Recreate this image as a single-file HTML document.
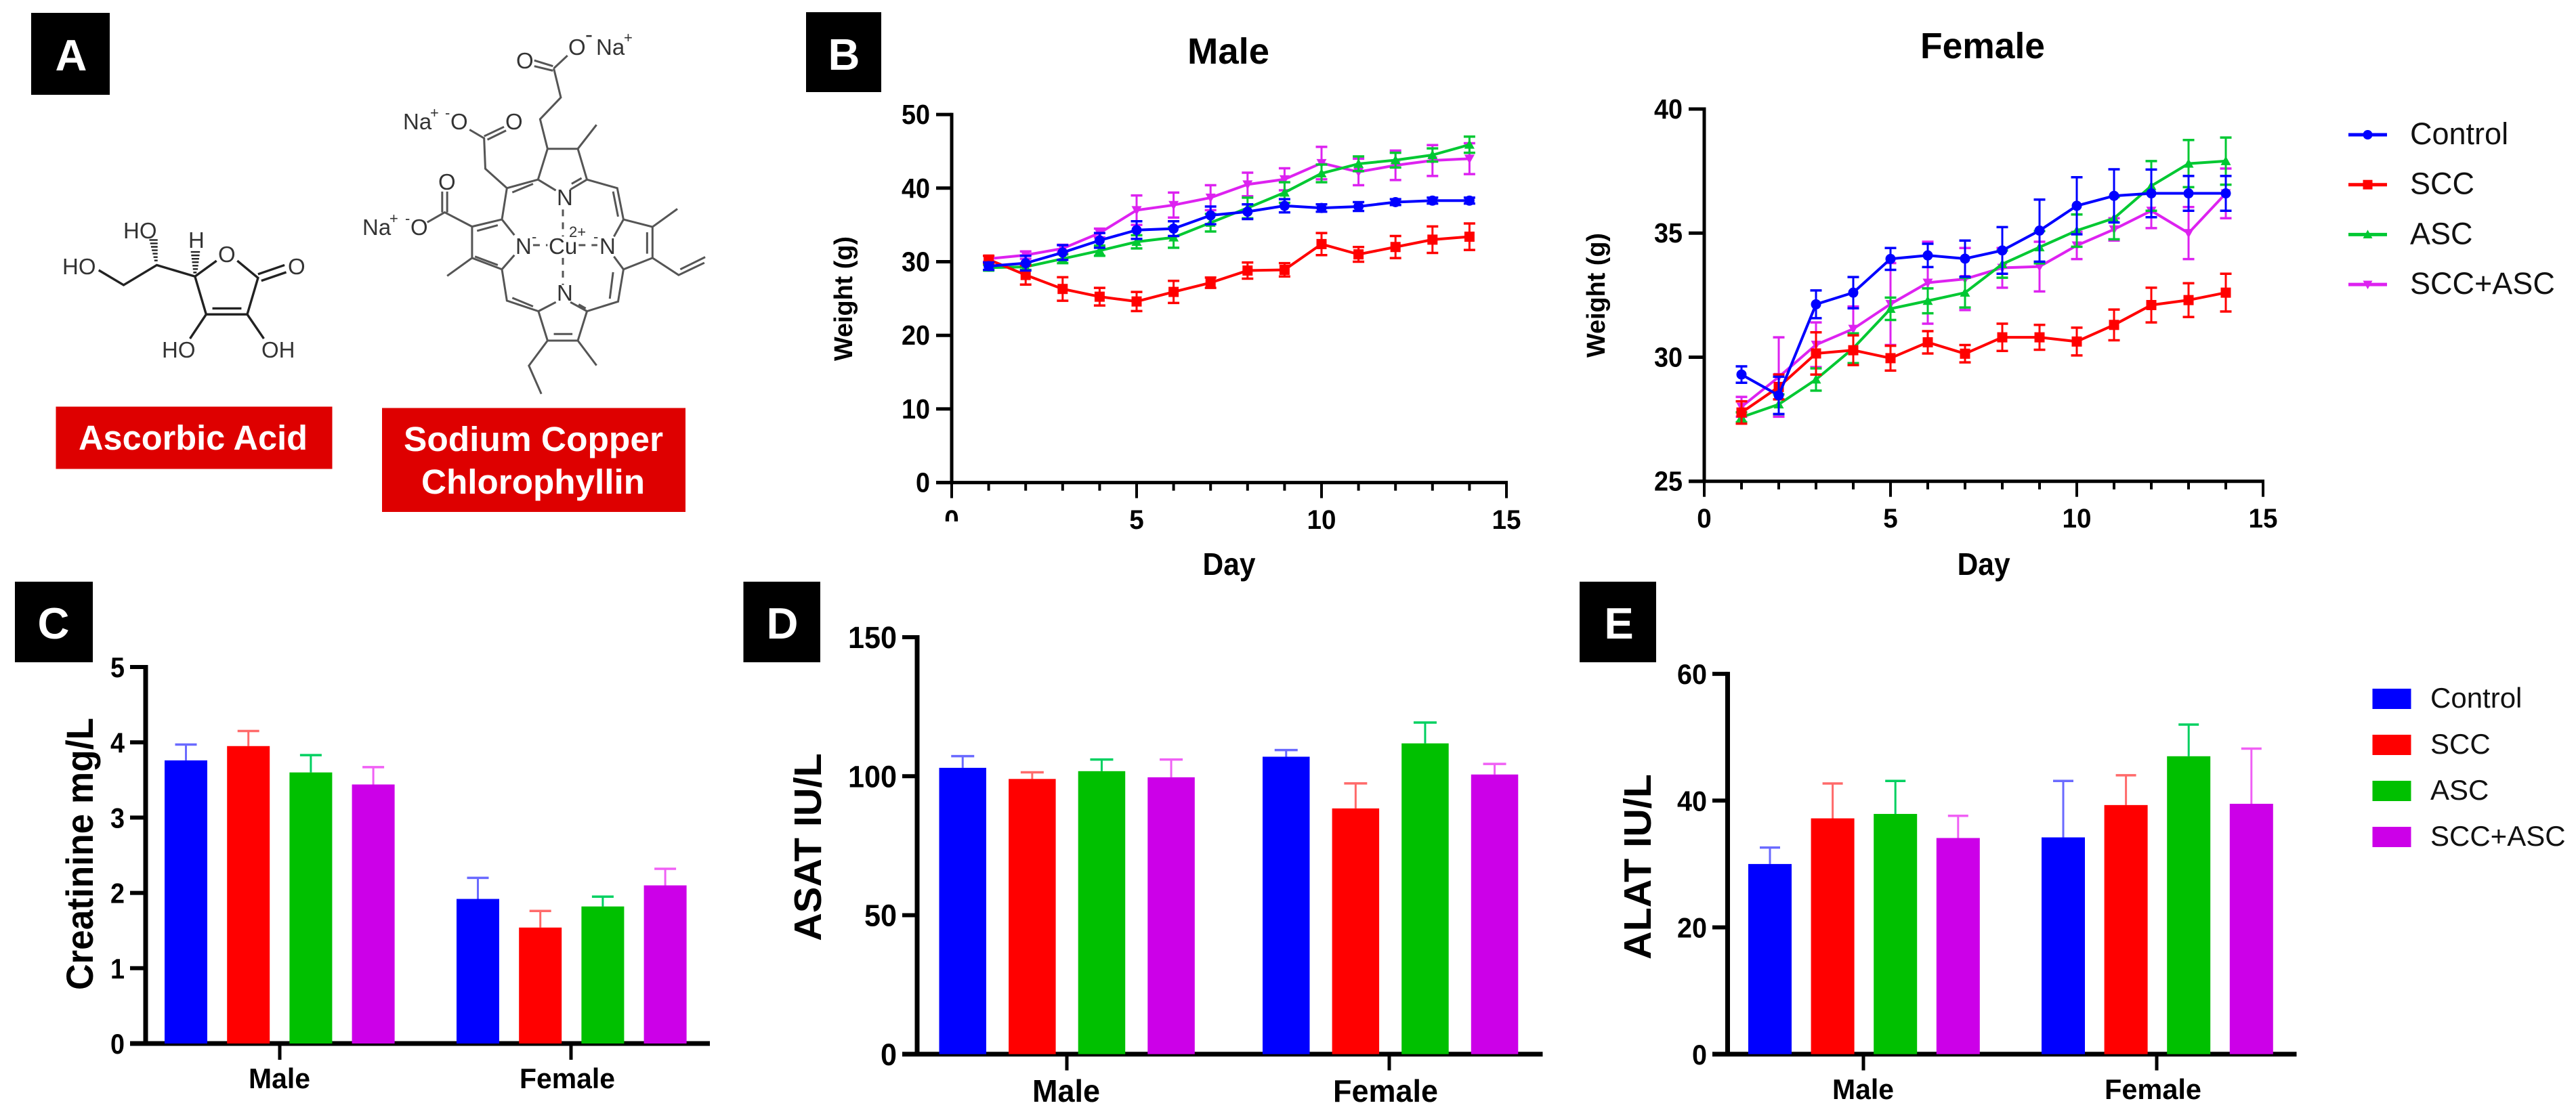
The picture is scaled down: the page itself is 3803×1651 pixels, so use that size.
<!DOCTYPE html>
<html lang="en">
<head>
<meta charset="utf-8">
<title>Weight and serum biochemistry figure</title>
<style>
html,body{margin:0;padding:0;background:#fff;}
body{width:3803px;height:1651px;overflow:hidden;}
svg{display:block;}
text{font-family:"Liberation Sans",sans-serif;}
.chem text{fill:#333;font-size:33px;}
.bond line,.bond path{vector-effect:non-scaling-stroke;}
</style>
</head>
<body>
<svg id="fig" xmlns="http://www.w3.org/2000/svg" width="3803" height="1651" viewBox="0 0 3803 1651">
<rect width="3803" height="1651" fill="#fff"/>

<g font-weight="700" font-size="65" fill="#fff" text-anchor="middle">
  <rect x="46" y="19" width="116" height="121" fill="#000"/>
  <text x="105" y="104" fill="#fff">A</text>
  <rect x="1190" y="18" width="111" height="118" fill="#000"/>
  <text x="1246" y="103" fill="#fff">B</text>
  <rect x="22" y="859" width="115" height="119" fill="#000"/>
  <text x="79" y="943" fill="#fff">C</text>
  <rect x="1097.5" y="859" width="113.5" height="119" fill="#000"/>
  <text x="1155" y="943" fill="#fff">D</text>
  <rect x="2332" y="859" width="113" height="119" fill="#000"/>
  <text x="2390" y="943" fill="#fff">E</text>
</g>

<g class="chem">
  <g class="bond" transform="scale(0.6124,0.4209)" stroke="#222" stroke-width="3.4" fill="none">
    <path d="M238 948L298 1000L378 930L470 970L522 915M470 970L497 1103L596 1103L622 975L572 915M512 1082L582 1082M622 962L686 930M630 985L690 955M497 1103L458 1188M596 1103L636 1188"/>
    <path stroke-width="2.4" d="M360 842L380 842M362 854L380 854M364 866L380 866M366 878L380 878M368 890L380 890M370 902L380 902M372 914L380 914M460 884L482 884M461 896L481 896M462 908L480 908M463 920L479 920M464 932L478 932M465 944L477 944M466 956L474 956"/>
  </g>
  <text x="92" y="405">HO</text>
  <text x="182" y="352">HO</text>
  <text x="278" y="366">H</text>
  <text x="322" y="387">O</text>
  <text x="425" y="405">O</text>
  <text x="239" y="528">HO</text>
  <text x="386" y="528">OH</text>
</g>

<g class="chem">
  <g class="bond" transform="scale(0.6124,0.4209)" stroke="#555" stroke-width="3" fill="none">
    <path d="M1333 232L1288 212M1333 248L1288 232M1335 240L1368 195M1335 240L1352 342L1302 418L1320 522L1393 522L1438 438M1320 522L1297 630L1340 668M1393 522L1415 630L1375 665M1378 645L1402 625M1415 630L1488 660L1503 770L1480 830M1478 672L1490 760M1503 770L1573 796L1573 905L1503 945L1480 900M1560 815L1560 890M1573 796L1633 733M1573 905L1636 965L1698 922M1640 945L1700 902M1503 945L1490 1058L1415 1092L1375 1060M1478 955L1470 1048M1395 1068L1412 1082M1298 1092L1340 1060M1298 1092L1222 1055L1210 945L1240 895M1235 1045L1285 1075M1210 945L1138 905L1138 795L1210 770L1240 825M1145 900L1200 930M1150 810L1200 790M1138 905L1078 968M1138 795L1072 745L1030 780M1066 745L1066 672M1078 745L1078 672M1210 770L1222 660L1297 630M1235 675L1285 645M1222 660L1170 592L1167 485L1132 455M1167 478L1215 445M1175 490L1220 458M1298 1092L1320 1195L1393 1195L1415 1092M1335 1172L1380 1172M1320 1195L1275 1283L1305 1382M1393 1195L1438 1282"/>
    <path stroke-dasharray="10 9" d="M1357 735L1357 830M1357 905L1357 1000M1285 860L1320 860M1395 860L1440 860"/>
  </g>
  <text x="762" y="101">O</text>
  <text x="839" y="81">O</text>
  <text x="864" y="62" font-size="22">-</text>
  <text x="880" y="81">Na</text>
  <text x="921" y="63" style="font-size:22px">+</text>
  <text x="595" y="191">Na</text>
  <text x="635" y="174" style="font-size:22px">+</text>
  <text x="657" y="174" style="font-size:22px">-</text>
  <text x="665" y="191">O</text>
  <text x="746" y="191">O</text>
  <text x="535" y="347">Na</text>
  <text x="575" y="330" style="font-size:22px">+</text>
  <text x="598" y="330" style="font-size:22px">-</text>
  <text x="606" y="347">O</text>
  <text x="647" y="280">O</text>
  <text x="822" y="303">N</text>
  <text x="761" y="375">N</text>
  <text x="785" y="357" style="font-size:22px">-</text>
  <text x="810" y="375">Cu</text>
  <text x="840" y="350" style="font-size:22px">2+</text>
  <text x="885" y="375">N</text>
  <text x="876" y="357" style="font-size:22px">-</text>
  <text x="822" y="444">N</text>
</g>

<g font-weight="700" fill="#fff">
  <rect x="82.5" y="600.5" width="408" height="92" fill="#de0000"/>
  <text x="116" y="664" font-size="51" textLength="338" lengthAdjust="spacingAndGlyphs">Ascorbic Acid</text>
  <rect x="564" y="602.5" width="448" height="153.5" fill="#de0000"/>
  <text x="596" y="666" font-size="51" textLength="383" lengthAdjust="spacingAndGlyphs">Sodium Copper</text>
  <text x="622" y="729" font-size="51" textLength="330" lengthAdjust="spacingAndGlyphs">Chlorophyllin</text>
</g>
<g id="charts"></g>
</svg>

<script>
/* ---------- shared ---------- */
const groupNames = ['Control', 'SCC', 'ASC', 'SCC+ASC'];
const sexNames = ['Male', 'Female'];

/* ---------- panel B data ---------- */
const days = [1, 2, 3, 4, 5, 6, 7, 8, 9, 10, 11, 12, 13, 14];
const dayTickLabels = [0, 5, 10, 15];
const maleWeightTicks = [0, 10, 20, 30, 40, 50];
const femaleWeightTicks = [25, 30, 35, 40];

const maleControl = [29.4, 29.8, 31.25, 32.9, 34.3, 34.5, 36.3, 36.8, 37.6, 37.3, 37.5, 38.1, 38.3, 38.3];
const maleControlErr = [0.5, 1.0, 1.0, 1.0, 1.2, 1.0, 1.2, 1.0, 0.9, 0.5, 0.6, 0.4, 0.4, 0.4];
const maleSCC = [30.3, 28.2, 26.3, 25.25, 24.6, 25.9, 27.15, 28.8, 28.9, 32.4, 31.0, 32.0, 33.0, 33.4];
const maleSCCErr = [0.5, 1.3, 1.6, 1.2, 1.3, 1.5, 0.7, 1.1, 0.9, 1.5, 1.0, 1.5, 1.8, 1.8];
const maleASC = [29.2, 29.3, 30.4, 31.5, 32.7, 33.3, 35.3, 37.3, 39.4, 42.0, 43.3, 43.8, 44.5, 45.9];
const maleASCErr = [0.4, 0.4, 0.6, 0.7, 0.9, 1.4, 1.2, 1.4, 1.4, 1.2, 1.0, 1.0, 0.9, 1.1];
const maleCombo = [30.4, 30.9, 31.8, 33.9, 37.0, 37.7, 38.7, 40.5, 41.2, 43.4, 42.2, 43.1, 43.75, 44.0];
const maleComboErr = [0.4, 0.5, 0.5, 0.6, 2.0, 1.7, 1.7, 1.6, 1.5, 2.2, 1.8, 2.0, 2.1, 2.1];

const femaleControl = [29.3, 28.46, 32.13, 32.6, 33.96, 34.1, 33.97, 34.3, 35.1, 36.1, 36.5, 36.6, 36.6, 36.6];
const femaleControlErr = [0.33, 0.75, 0.56, 0.63, 0.44, 0.47, 0.73, 0.94, 1.25, 1.15, 1.07, 0.96, 0.7, 0.7];
const femaleSCC = [27.77, 28.8, 30.15, 30.28, 29.96, 30.6, 30.14, 30.8, 30.8, 30.63, 31.3, 32.1, 32.3, 32.6];
const femaleSCCErr = [0.45, 0.5, 0.85, 0.6, 0.5, 0.45, 0.35, 0.55, 0.5, 0.56, 0.62, 0.7, 0.68, 0.76];
const femaleASC = [27.58, 28.1, 29.1, 30.36, 31.95, 32.27, 32.6, 33.75, 34.43, 35.1, 35.6, 36.9, 37.8, 37.9];
const femaleASCErr = [0.2, 0.4, 0.45, 0.6, 0.45, 0.5, 0.6, 0.55, 0.65, 0.65, 0.85, 1.0, 0.95, 0.95];
const femaleCombo = [28.0, 29.2, 30.5, 31.14, 32.14, 33.0, 33.15, 33.6, 33.65, 34.5, 35.15, 35.9, 35.0, 36.6];
const femaleComboErr = [0.4, 1.6, 0.9, 0.9, 1.65, 1.65, 1.25, 0.8, 1.0, 0.55, 0.45, 0.7, 1.05, 1.0];

/* ---------- panels C, D, E data: rows are Male, Female; columns follow groupNames ---------- */
const creatinineTicks = [0, 1, 2, 3, 4, 5];
const creatinineMale = [3.76, 3.95, 3.6, 3.44];
const creatinineMaleErr = [0.21, 0.2, 0.23, 0.23];
const creatinineFemale = [1.92, 1.54, 1.82, 2.1];
const creatinineFemaleErr = [0.28, 0.22, 0.13, 0.22];

const asatTicks = [0, 50, 100, 150];
const asatMale = [103, 99, 101.8, 99.6];
const asatMaleErr = [4.2, 2.4, 4.2, 6.4];
const asatFemale = [107, 88.4, 111.8, 100.6];
const asatFemaleErr = [2.4, 9.0, 7.5, 3.8];

const alatTicks = [0, 20, 40, 60];
const alatMale = [30, 37.2, 37.9, 34.1];
const alatMaleErr = [2.6, 5.5, 5.2, 3.5];
const alatFemale = [34.2, 39.3, 47, 39.5];
const alatFemaleErr = [8.9, 4.7, 5, 8.7];

/* ---------- drawing helpers ---------- */
const SVGNS = 'http://www.w3.org/2000/svg';
const root = document.getElementById('charts');
const lineColors = ['#0000ff', '#ff0000', '#00c832', '#dd22f0'];
const barColors = ['#0000ff', '#ff0000', '#00c000', '#cc00e8'];
const capColors = ['#6a6aff', '#ff6a6a', '#00d060', '#f060f5'];

function mk(parent, tag, name, attrs, content) {
  const el = document.createElementNS(SVGNS, tag);
  
  
  for (const k in attrs) el.setAttribute(k, attrs[k]);
  if (content !== undefined) el.textContent = content;
  parent.appendChild(el);
  return el;
}
function slug(s) { return String(s).toLowerCase().replace(/[^a-z0-9]+/g, '-'); }
function hline(p, name, x1, x2, y, w, c) { return mk(p, 'line', name, {x1: x1, x2: x2, y1: y, y2: y, stroke: c || '#000', 'stroke-width': w}); }
function vline(p, name, x, y1, y2, w, c) { return mk(p, 'line', name, {x1: x, x2: x, y1: y1, y2: y2, stroke: c || '#000', 'stroke-width': w}); }

function marker(p, name, kind, x, y, s, color) {
  if (kind === 0) return mk(p, 'circle', name, {cx: x, cy: y, r: s, fill: color});
  if (kind === 1) return mk(p, 'rect', name, {x: x - s, y: y - s, width: 2 * s, height: 2 * s, fill: color});
  if (kind === 2) return mk(p, 'polygon', name, {points: (x - s) + ',' + (y + s * 0.8) + ' ' + (x + s) + ',' + (y + s * 0.8) + ' ' + x + ',' + (y - s), fill: color});
  return mk(p, 'polygon', name, {points: (x - s) + ',' + (y - s * 0.8) + ' ' + (x + s) + ',' + (y - s * 0.8) + ' ' + x + ',' + (y + s), fill: color});
}

/* ---------- line chart ---------- */
function lineChart(cfg) {
  const g = mk(root, 'g', cfg.name, {});
  const xOf = d => cfg.x0 + d * cfg.pxPerDay;
  const yOf = v => cfg.yBase - (v - cfg.yMin) * cfg.pxPerUnit;
  const top = yOf(cfg.yTicks[cfg.yTicks.length - 1]);

  mk(g, 'text', 'chart-title', {x: cfg.titleX, y: cfg.titleY, 'font-size': 54, 'font-weight': 700, textLength: cfg.titleW, lengthAdjust: 'spacingAndGlyphs'}, cfg.title);

  vline(g, 'y-axis', cfg.x0, top - 2.5, cfg.yBase + 2.5, 5);
  hline(g, 'x-axis', cfg.x0 - 23, xOf(15) + 2, cfg.yBase, 5);
  cfg.yTicks.forEach(function (t) {
    hline(g, 'y-tick-' + t, cfg.x0 - 23, cfg.x0, yOf(t), 5);
    mk(g, 'text', 'y-tick-label-' + t, {x: cfg.x0 - 32, y: yOf(t) + 14, 'font-size': 41, 'font-weight': 700, 'text-anchor': 'end', textLength: String(t).length * 21, lengthAdjust: 'spacingAndGlyphs'}, t);
  });
  for (let d = 1; d <= 15; d++) {
    vline(g, 'x-minor-tick-' + d, xOf(d), cfg.yBase, cfg.yBase + 12, 4);
  }
  dayTickLabels.forEach(function (t) {
    vline(g, 'x-tick-' + t, xOf(t), cfg.yBase, cfg.yBase + 23, 4);
    mk(g, 'text', 'x-tick-label-' + t, {x: xOf(t), y: cfg.tickLabelY, 'font-size': 40, 'font-weight': 700, 'text-anchor': 'middle', textLength: String(t).length * 21.5, lengthAdjust: 'spacingAndGlyphs'}, t);
  });
  mk(g, 'text', 'x-axis-title', {x: cfg.dayX, y: 849, 'font-size': 46, 'font-weight': 700, textLength: 78, lengthAdjust: 'spacingAndGlyphs'}, 'Day');
  mk(g, 'text', 'y-axis-title', {transform: 'translate(' + cfg.yTitleX + ',' + cfg.yTitleY + ') rotate(-90)', 'text-anchor': 'middle', 'font-size': 38, 'font-weight': 700, textLength: 184, lengthAdjust: 'spacingAndGlyphs'}, 'Weight (g)');

  [3, 2, 1, 0].forEach(function (s) {
    const values = cfg.series[s];
    const errs = cfg.errors[s];
    const color = lineColors[s];
    const sg = mk(g, 'g', 'series-' + slug(groupNames[s]), {});
    days.forEach(function (d, i) {
      const x = xOf(d);
      vline(sg, 'error-bar', x, yOf(values[i] + errs[i]), yOf(values[i] - errs[i]), 3, color);
      hline(sg, 'error-cap-top', x - 8.5, x + 8.5, yOf(values[i] + errs[i]), 3.5, color);
      hline(sg, 'error-cap-bottom', x - 8.5, x + 8.5, yOf(values[i] - errs[i]), 3.5, color);
    });
    const pts = days.map(function (d, i) { return xOf(d) + ',' + yOf(values[i]); }).join(' ');
    mk(sg, 'polyline', 'series-line', {points: pts, fill: 'none', stroke: color, 'stroke-width': 4});
    days.forEach(function (d, i) {
      marker(sg, 'point-day-' + d, s, xOf(d), yOf(values[i]), s === 1 ? 7.5 : 7.5, color);
    });
  });
}

lineChart({
  name: 'male-weight-chart', title: 'Male', titleX: 1753, titleY: 94, titleW: 121,
  x0: 1405, pxPerDay: 54.6, yBase: 712.6, yMin: 0, pxPerUnit: 10.87, yTicks: maleWeightTicks,
  tickLabelY: 781, dayX: 1775.5, yTitleX: 1258, yTitleY: 441,
  series: [maleControl, maleSCC, maleASC, maleCombo],
  errors: [maleControlErr, maleSCCErr, maleASCErr, maleComboErr]
});
lineChart({
  name: 'female-weight-chart', title: 'Female', titleX: 2835, titleY: 86, titleW: 184,
  x0: 2516, pxPerDay: 55, yBase: 710.7, yMin: 25, pxPerUnit: 36.65, yTicks: femaleWeightTicks,
  tickLabelY: 779, dayX: 2889.6, yTitleX: 2369, yTitleY: 436,
  series: [femaleControl, femaleSCC, femaleASC, femaleCombo],
  errors: [femaleControlErr, femaleSCCErr, femaleASCErr, femaleComboErr]
});
/* the male "0" day label is clipped in the original figure */
mk(root, 'rect', 'x-label-clip-mask', {x: 1388, y: 770, width: 34, height: 16, fill: '#fff'});

/* weight legend */
const lineLegend = mk(root, 'g', 'weight-legend', {});
groupNames.forEach(function (n, i) {
  const rowY = 199 + i * 73.7;
  const e = mk(lineLegend, 'g', 'legend-entry-' + slug(n), {});
  hline(e, 'legend-line', 3467, 3524, rowY, 5, lineColors[i]);
  marker(e, 'legend-marker', i, 3495.5, rowY, 7, lineColors[i]);
  mk(e, 'text', 'legend-label', {x: 3558, y: rowY + 14, 'font-size': 45, fill: '#111'}, n);
});

/* ---------- bar chart ---------- */
function barChart(cfg) {
  const g = mk(root, 'g', cfg.name, {});
  const yOf = v => cfg.yBase - v * cfg.pxPerUnit;
  const top = yOf(cfg.yTicks[cfg.yTicks.length - 1]);

  vline(g, 'y-axis', cfg.xAxis, top - 3, cfg.yBase, 7);
  hline(g, 'x-axis', cfg.tickLeft, cfg.xEnd, cfg.yBase, 7);
  cfg.yTicks.forEach(function (t) {
    if (t !== 0) hline(g, 'y-tick-' + t, cfg.tickLeft, cfg.xAxis, yOf(t), 6);
    mk(g, 'text', 'y-tick-label-' + t, {x: cfg.tickLeft - 8, y: yOf(t) + cfg.labelSize * 0.36, 'font-size': cfg.labelSize, 'font-weight': 700, 'text-anchor': 'end', textLength: String(t).length * cfg.digitW, lengthAdjust: 'spacingAndGlyphs'}, t);
  });
  mk(g, 'text', 'y-axis-title', {transform: 'translate(' + cfg.titleX + ',' + cfg.titleY + ') rotate(-90)', 'text-anchor': 'middle', 'font-size': cfg.titleSize, 'font-weight': 700, textLength: cfg.titleW, lengthAdjust: 'spacingAndGlyphs'}, cfg.title);

  sexNames.forEach(function (sex, si) {
    const sg = mk(g, 'g', 'group-' + slug(sex), {});
    groupNames.forEach(function (n, i) {
      const left = cfg.groupLeft[si] + i * cfg.step;
      const cx = left + cfg.barW / 2;
      const v = cfg.values[si][i];
      const hi = v + cfg.errs[si][i];
      vline(sg, 'error-bar-' + slug(n), cx, yOf(hi), yOf(v), 3, capColors[i]);
      hline(sg, 'error-cap-' + slug(n), cx - cfg.capW, cx + cfg.capW, yOf(hi), 3.5, capColors[i]);
      mk(sg, 'rect', 'bar-' + slug(n), {x: left, y: yOf(v), width: cfg.barW, height: cfg.yBase - yOf(v), fill: barColors[i]});
    });
    vline(sg, 'x-tick', cfg.xTicks[si], cfg.yBase, cfg.yBase + 24, 5);
    mk(sg, 'text', 'x-tick-label', {x: cfg.xLabels[si], y: cfg.xLabelY, 'font-size': cfg.xLabelSize, 'font-weight': 700, textLength: cfg.xLabelW[si], lengthAdjust: 'spacingAndGlyphs'}, sex);
  });
}

barChart({
  name: 'creatinine-chart', title: 'Creatinine mg/L', titleX: 137, titleY: 1261, titleSize: 56, titleW: 402,
  xAxis: 215, tickLeft: 192, xEnd: 1048, yBase: 1541, pxPerUnit: 111.2, yTicks: creatinineTicks,
  labelSize: 42, digitW: 21, groupLeft: [243, 674], step: 92.2, barW: 63, capW: 16,
  values: [creatinineMale, creatinineFemale], errs: [creatinineMaleErr, creatinineFemaleErr],
  xTicks: [413, 843], xLabels: [367, 767], xLabelY: 1607, xLabelSize: 42, xLabelW: [91, 141]
});
barChart({
  name: 'asat-chart', title: 'ASAT IU/L', titleX: 1212, titleY: 1251, titleSize: 57, titleW: 277.5,
  xAxis: 1354, tickLeft: 1332, xEnd: 2277.5, yBase: 1556.7, pxPerUnit: 4.105, yTicks: asatTicks,
  labelSize: 45, digitW: 24, groupLeft: [1386.5, 1864], step: 102.6, barW: 69.5, capW: 17,
  values: [asatMale, asatFemale], errs: [asatMaleErr, asatFemaleErr],
  xTicks: [1575, 2051], xLabels: [1524, 1968], xLabelY: 1627, xLabelSize: 46, xLabelW: [100, 155]
});
barChart({
  name: 'alat-chart', title: 'ALAT IU/L', titleX: 2437, titleY: 1280, titleSize: 57, titleW: 273.7,
  xAxis: 2550.5, tickLeft: 2528, xEnd: 3390.5, yBase: 1556.7, pxPerUnit: 9.36, yTicks: alatTicks,
  labelSize: 42, digitW: 22, groupLeft: [2581, 3014], step: 92.6, barW: 64, capW: 15,
  values: [alatMale, alatFemale], errs: [alatMaleErr, alatFemaleErr],
  xTicks: [2751, 3184], xLabels: [2705, 3107], xLabelY: 1623, xLabelSize: 42, xLabelW: [91, 143]
});

/* biochemistry legend */
const barLegend = mk(root, 'g', 'biochemistry-legend', {});
groupNames.forEach(function (n, i) {
  const rowY = 1017 + i * 68;
  const e = mk(barLegend, 'g', 'legend-entry-' + slug(n), {});
  mk(e, 'rect', 'legend-swatch', {x: 3502.5, y: rowY, width: 57, height: 30, fill: barColors[i]});
  mk(e, 'text', 'legend-label', {x: 3588, y: rowY + 28, 'font-size': 42, fill: '#111'}, n);
});
</script>
</body>
</html>
